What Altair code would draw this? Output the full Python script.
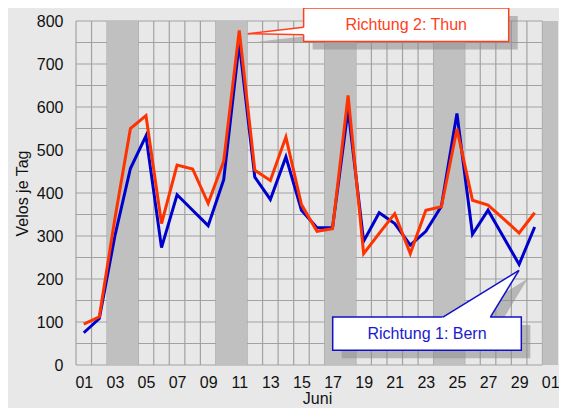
import altair as alt
import pandas as pd

# ---- data ----
days = list(range(1, 31))
bern = [75, 108, 300, 457, 533, 273, 396, 360, 324, 431, 749, 437, 385, 484, 360,
        319, 320, 594, 288, 354, 329, 279, 311, 369, 585, 304, 360, 297, 234, 321]
thun = [95, 112, 340, 550, 580, 329, 465, 456, 376, 474, 778, 453, 429, 530, 373,
        311, 317, 627, 259, 306, 352, 259, 360, 368, 549, 383, 372, 340, 307, 354]

tick_days = list(range(1, 32, 2))
weekend_start = [3, 10, 17, 24, 31]
weekend_end = [4, 11, 18, 25, 31]

grid_x = [d + 0.5 for d in range(0, 31)]
grid_y = list(range(0, 801, 50))

FONT = "Liberation Sans"
RED = "#ff3300"
BLUE = "#0000cc"

# annotation anchors (in data units: day / velos)
thun_box = {"x": 15.14, "x2": 28.33, "y": 752.6, "y2": 830.2}
thun_tip = {"x": 11.55, "y": 770.6}
thun_base = {"x": 15.14, "y_lo": 768.0, "y_hi": 785.6}
bern_box = {"x": 17.01, "x2": 29.14, "y": 34.1, "y2": 111.5}
bern_tip = {"x": 28.99, "y": 220.0}
bern_base = {"y": 111.5, "x_lo": 24.1, "x_hi": 27.15}

xscale = alt.Scale(domain=[0.5, 31.5], nice=False, zero=False)
yscale = alt.Scale(domain=[0, 800], nice=False)

axis_x = alt.Axis(values=tick_days, grid=False, domain=False, ticks=False,
                  labelExpr="datum.value == 31 ? '01' : (datum.value < 10 ? '0' + datum.value : '' + datum.value)",
                  labelFontSize=16, labelFont=FONT, labelColor="#111", labelPadding=9,
                  title="Juni", titleFont=FONT, titleFontSize=16, titleFontWeight="normal",
                  titleColor="#111", titlePadding=0)
axis_y = alt.Axis(values=list(range(0, 801, 100)), grid=False, domain=False, ticks=False,
                  labelFontSize=16, labelFont=FONT, labelColor="#111", labelPadding=13,
                  title="Velos je Tag", titleFont=FONT, titleFontSize=16, titleFontWeight="normal",
                  titleColor="#111", titlePadding=6)


def X(f):
    return alt.X(f, scale=xscale, axis=axis_x)


def Y(f):
    return alt.Y(f, scale=yscale, axis=axis_y)


df = pd.DataFrame({"day": days * 2,
                   "value": bern + thun,
                   "series": ["Richtung 1: Bern"] * 30 + ["Richtung 2: Thun"] * 30})

# grid lines
gx = alt.Chart(pd.DataFrame({"x": grid_x})).transform_calculate(y0="0", y1="800").mark_rule(
    color="#a2a2a2", strokeWidth=1.2).encode(x=X("x:Q"), y=Y("y0:Q"), y2="y1:Q")
gy = alt.Chart(pd.DataFrame({"y": grid_y})).transform_calculate(x0="0.5", x1="30.5").mark_rule(
    color="#a2a2a2", strokeWidth=1.2).encode(x=X("x0:Q"), x2="x1:Q", y=Y("y:Q"))

# weekend bands
bands = alt.Chart(pd.DataFrame({"s": weekend_start, "e": weekend_end})).transform_calculate(
    xs="datum.s - 0.5", xe="datum.e + 0.5", y0="0", y1="800").mark_rect(color="#c0c0c0").encode(
    x=X("xs:Q"), x2="xe:Q", y=Y("y0:Q"), y2="y1:Q")

line_bern = alt.Chart(df).transform_filter("datum.series == 'Richtung 1: Bern'").mark_line(
    color=BLUE, strokeWidth=3).encode(x=X("day:Q"), y=Y("value:Q"))
line_thun = alt.Chart(df).transform_filter("datum.series == 'Richtung 2: Thun'").mark_line(
    color=RED, strokeWidth=3).encode(x=X("day:Q"), y=Y("value:Q"))


def box(b, stroke, shadow):
    d = pd.DataFrame([b])
    if shadow:
        m = alt.Chart(d).mark_rect(color="#8c8c8c", opacity=0.55, xOffset=9, yOffset=8,
                                   x2Offset=9, y2Offset=8)
    else:
        m = alt.Chart(d).mark_rect(fill="white", stroke=stroke, strokeWidth=1.5)
    return m.encode(x=X("x:Q"), x2="x2:Q", y=Y("y:Q"), y2="y2:Q")


thun_ptr = pd.DataFrame({"x": [thun_tip["x"], thun_base["x"] + 0.1],
                         "y": [thun_tip["y"], thun_base["y_lo"]],
                         "y2": [thun_tip["y"], thun_base["y_hi"]]})
thun_edges = pd.DataFrame({"x": [thun_tip["x"], thun_tip["x"]], "y": [thun_tip["y"], thun_tip["y"]],
                           "x2": [thun_base["x"], thun_base["x"]],
                           "y2": [thun_base["y_lo"], thun_base["y_hi"]]})
bern_ptr = pd.DataFrame({"y": [bern_base["y"] - 2.5, bern_tip["y"]],
                         "x": [bern_base["x_lo"] - 0.11, bern_tip["x"]],
                         "x2": [bern_base["x_hi"] - 0.04, bern_tip["x"]]})
bern_edges = pd.DataFrame({"x": [bern_tip["x"], bern_tip["x"]], "y": [bern_tip["y"], bern_tip["y"]],
                           "x2": [bern_base["x_lo"], bern_base["x_hi"]],
                           "y2": [bern_base["y"], bern_base["y"]]})


def ptr_area(d, fill, horizontal=False, shadow=False):
    kw = {}
    if shadow:
        kw = dict(xOffset=9, yOffset=8, x2Offset=9, y2Offset=8, opacity=0.55)
    if horizontal:
        return alt.Chart(d).mark_area(color=fill, orient="horizontal", **kw).encode(
            y=Y("y:Q"), x=X("x:Q"), x2="x2:Q")
    return alt.Chart(d).mark_area(color=fill, orient="vertical", **kw).encode(
        x=X("x:Q"), y=Y("y:Q"), y2="y2:Q")


def edges(d, color):
    return alt.Chart(d).mark_rule(color=color, strokeWidth=1.5).encode(
        x=X("x:Q"), x2="x2:Q", y=Y("y:Q"), y2="y2:Q")


def label(b, text, color):
    d = pd.DataFrame({"x": [(b["x"] + b["x2"]) / 2], "y": [(b["y"] + b["y2"]) / 2], "t": [text]})
    return alt.Chart(d).mark_text(font=FONT, fontSize=16, color=color, baseline="middle",
                                  align="center").encode(x=X("x:Q"), y=Y("y:Q"), text="t:N")


layers = [gx, gy, bands, line_bern, line_thun,
          box(thun_box, None, True), ptr_area(thun_ptr, "#8c8c8c", shadow=True),
          box(bern_box, None, True), ptr_area(bern_ptr, "#8c8c8c", horizontal=True, shadow=True),
          box(thun_box, "#ff4020", False), ptr_area(thun_ptr, "white"), edges(thun_edges, "#ff4020"),
          label(thun_box, "Richtung 2: Thun", "#ff4020"),
          box(bern_box, "#1010cc", False), ptr_area(bern_ptr, "white", horizontal=True),
          edges(bern_edges, "#1010cc"), label(bern_box, "Richtung 1: Bern", "#1a1acc")]

chart = alt.layer(*layers).properties(
    width=482, height=344,
    padding={"left": 68, "top": 13, "right": 1, "bottom": 43},
    autosize=alt.AutoSizeParams(type="none"),
    background="#e8e8e8",
).configure_view(stroke="transparent", fill="#e8e8e8")

chart.save("out.html", embed_options={"renderer": "svg", "actions": False})
